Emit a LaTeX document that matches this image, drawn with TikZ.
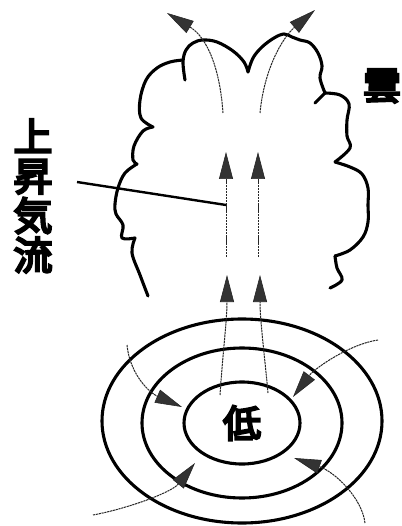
\documentclass[tikz,border=0pt]{standalone}
\usepackage{fontspec}
\usepackage{tikz}
\usetikzlibrary{arrows.meta,shapes.geometric}
\newfontfamily\jp{Noto Sans CJK JP}[FakeBold=6]

\tikzset{
  cloudline/.style={line width=3.1pt, line cap=round, line join=round},
  isobar/.style={draw, ellipse, line width=3.1pt, inner sep=0pt},
  flow/.style={draw=black!85, line width=1pt, dash pattern=on 2.2pt off 0.7pt,
    -{Triangle[length=27pt,width=14pt,fill=black!80,line width=0.6pt]}},
  kanji/.style={font=\jp\fontsize{38}{39}\selectfont, inner sep=0pt},
}

\begin{document}
\begin{tikzpicture}[x=1pt,y=-1pt]
\useasboundingbox (0,0) rectangle (401,526);

% cloud outline
\draw[cloudline] plot[smooth,tension=0.6] coordinates {(185,80) (183,62) (186,50) (193,43) (203,40) (217,42) (233,51) (244,62) (248,72)};
\draw[cloudline] plot[smooth,tension=0.6] coordinates {(248,72) (253,58) (262,47) (274,38) (284,34) (292,37) (300,40) (310,43) (318,53) (322,66) (320,78) (325,93)};
\draw[cloudline] (325,93) -- (315,103);
\draw[cloudline] plot[smooth,tension=0.6] coordinates {(325,93) (340,95) (349,104) (347,120) (347,136) (350,148) (335,162)};
\draw[cloudline] plot[smooth,tension=0.6] coordinates {(335,162) (350,167) (362,174) (368,188) (368,205) (368,222) (363,237) (350,250) (335,256)};
\draw[cloudline] plot[smooth,tension=0.6] coordinates {(335,256) (337,268) (342,280) (330,288)};
\draw[cloudline] plot[smooth,tension=0.6] coordinates {(183,60) (170,62) (157,68) (146,80) (140,100) (141,118) (153,127)};
\draw[cloudline] plot[smooth,tension=0.6] coordinates {(153,127) (143,131) (134,146) (133,160) (137,164)};
\draw[cloudline] plot[smooth,tension=0.6] coordinates {(137,164) (125,173) (118,188) (115,204) (116,214) (123,225) (122,238) (135,238)};
\draw[cloudline] plot[smooth,tension=0.6] coordinates {(135,238) (132,253) (140,275) (148,296)};

% isobars around the low
\node[isobar, minimum width=280, minimum height=204] (outer) at (242,421) {};
\node[isobar, minimum width=200, minimum height=150] (middle) at (242,423) {};
\node[isobar, minimum width=116, minimum height=82, kanji] (low) at (242,423) {低};

\node[kanji] (cloud) at (382,86) {雲};
\node[kanji, align=center, font=\jp\fontsize{39}{39.5}\selectfont] (updraft) at (33,196) {上\\昇\\気\\流};

% inflow
\coordinate (in1) at (127,345);
\coordinate (in2) at (378,340);
\coordinate (in3) at (93,515);
\coordinate (in4) at (365,523);
\coordinate (tip1) at (182,407);
\coordinate (tip2) at (293,397);
\coordinate (tip3) at (195,463);
\coordinate (tip4) at (294,458);
\draw[flow] (in1) .. controls (130,375) and (150,393) .. (tip1);
\draw[flow] (in2) .. controls (350,344) and (315,368) .. (tip2);
\draw[flow] (in3) .. controls (130,508) and (172,492) .. (tip3);
\draw[flow] (in4) .. controls (362,498) and (335,472) .. (tip4);

% rising air
\coordinate (r1) at (220,395);
\coordinate (r2) at (268,393);
\coordinate (r3) at (227,275);
\coordinate (r4) at (260,275);
\draw[flow] (r1) .. controls (223,350) and (227,320) .. (r3);
\draw[flow] (r2) .. controls (264,350) and (260,320) .. (r4);
\coordinate (c1) at (226,257);
\coordinate (c2) at (258,257);
\coordinate (c3) at (226,152);
\coordinate (c4) at (258,152);
\draw[flow] (c1) -- (c3);
\draw[flow] (c2) -- (c4);
\coordinate (t1) at (223,113);
\coordinate (t2) at (260,113);
\coordinate (out1) at (167,13);
\coordinate (out2) at (315,10);
\draw[flow] (t1) .. controls (220,70) and (208,38) .. (out1);
\draw[flow] (t2) .. controls (264,70) and (282,38) .. (out2);

% pointer to the updraft
\coordinate (lead) at (77,182);
\coordinate (pt) at (226,205);
\draw[line width=2.4pt] (lead) -- (pt);
\end{tikzpicture}
\end{document}
